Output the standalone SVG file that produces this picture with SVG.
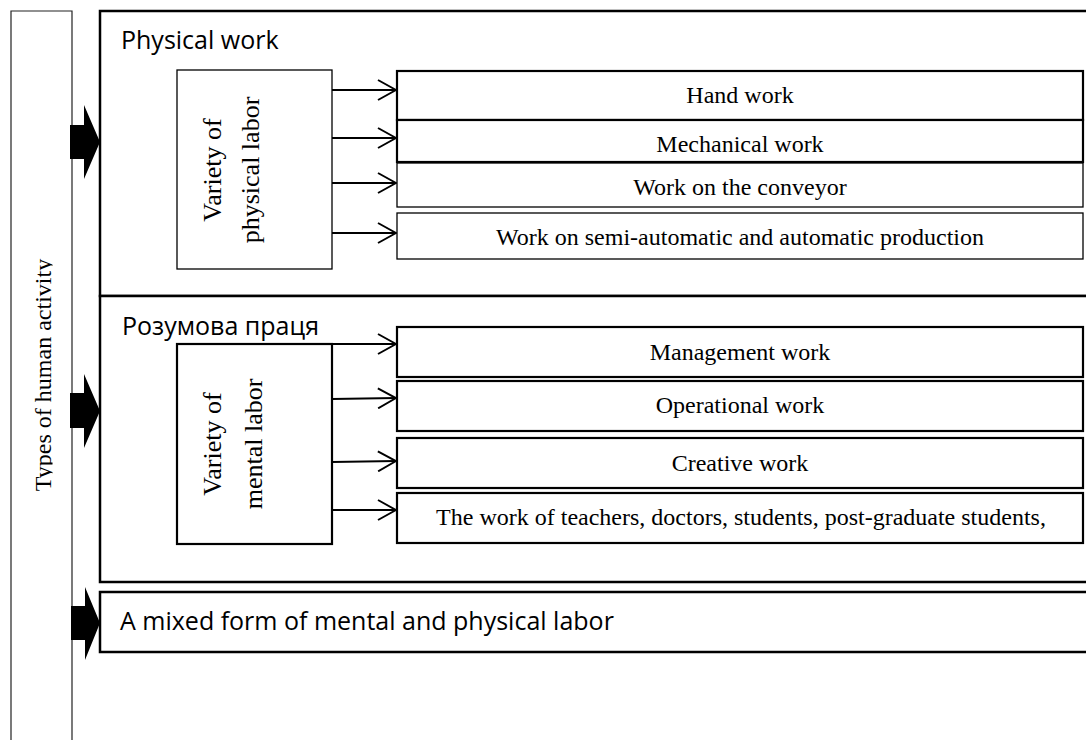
<svg xmlns="http://www.w3.org/2000/svg" width="1086" height="740" viewBox="0 0 1086 740">
<style>
.sans{font-family:"Open Sans","Liberation Sans",sans-serif;font-size:25px;fill:#000}
.serif{font-family:"Liberation Serif","Times New Roman",serif;font-size:24px;fill:#000}
.vt{font-family:"Liberation Serif","Times New Roman",serif;font-size:26px;fill:#000;text-anchor:middle}
.big{fill:#fff;stroke:#000;stroke-width:2.5}
.thick{fill:#fff;stroke:#000;stroke-width:2.2}
.thin{fill:#fff;stroke:#000;stroke-width:1.3}
.conn{stroke:#000;stroke-width:2;fill:none}
.blk{fill:#000}
</style>
<defs>
<marker id="open" viewBox="0 0 20 22" refX="19" refY="11" markerWidth="20" markerHeight="22" markerUnits="userSpaceOnUse" orient="auto">
<path d="M1,1 L19,11 L1,21" fill="none" stroke="#000" stroke-width="2"/>
</marker>
<clipPath id="clipL" clipPathUnits="userSpaceOnUse"><rect x="12" y="12" width="40.5" height="728"/></clipPath>
</defs>
<rect width="1086" height="740" fill="#fff"/>

<g id="types">
<path d="M11,740 V11 H72 V740" fill="#fff" stroke="#222" stroke-width="1.2"/>
<g clip-path="url(#clipL)">
<text class="serif" font-size="23.5" text-anchor="middle" transform="translate(51,375) rotate(-90)">Types of human activity</text>
</g>
</g>

<g id="physical">
<rect class="big" x="100" y="11" width="1010" height="285"/>
<text class="sans" x="121" y="49">Physical work</text>
</g>

<g id="mental">
<rect class="big" x="100" y="296" width="1010" height="286"/>
<text class="sans" x="122" y="335">Розумова праця</text>
</g>

<g id="mixed">
<rect class="big" x="100" y="592" width="1010" height="60"/>
<text class="sans" x="120" y="630">A mixed form of mental and physical labor</text>
</g>

<g id="var-physical">
<rect class="thin" x="177" y="70" width="155" height="199"/>
<text class="vt" transform="translate(221,170) rotate(-90)">Variety of</text>
<text class="vt" transform="translate(259,170) rotate(-90)">physical labor</text>
</g>

<g id="var-mental">
<rect class="thick" x="177" y="344" width="155" height="200"/>
<text class="vt" transform="translate(221,444) rotate(-90)">Variety of</text>
<text class="vt" transform="translate(262,444) rotate(-90)">mental labor</text>
</g>

<g id="hand">
<rect class="thick" x="397" y="71" width="686" height="49"/>
<text class="serif" x="740" y="103" text-anchor="middle">Hand work</text>
</g>
<g id="mechanical">
<rect class="thick" x="397" y="120" width="686" height="42"/>
<text class="serif" x="740" y="152" text-anchor="middle">Mechanical work</text>
</g>
<g id="conveyor">
<rect class="thin" x="397" y="163" width="686" height="44"/>
<text class="serif" x="740" y="195" text-anchor="middle">Work on the conveyor</text>
</g>
<g id="semiauto">
<rect class="thin" x="397" y="213" width="686" height="46"/>
<text class="serif" x="740" y="245" text-anchor="middle">Work on semi-automatic and automatic production</text>
</g>

<g id="management">
<rect class="thick" x="397" y="327" width="686" height="50"/>
<text class="serif" x="740" y="360" text-anchor="middle">Management work</text>
</g>
<g id="operational">
<rect class="thick" x="397" y="381" width="686" height="50"/>
<text class="serif" x="740" y="413" text-anchor="middle">Operational work</text>
</g>
<g id="creative">
<rect class="thick" x="397" y="438" width="686" height="50"/>
<text class="serif" x="740" y="471" text-anchor="middle">Creative work</text>
</g>
<g id="teachers">
<rect class="thick" x="397" y="493" width="686" height="50"/>
<text class="serif" x="741" y="525" text-anchor="middle">The work of teachers, doctors, students, post-graduate students,</text>
</g>

<g id="connectors">
<polygon class="blk" points="70,125 84,125 84,105 100,142 84,179 84,159 70,159"/>
<polygon class="blk" points="70,393 84,393 84,374 100,411 84,448 84,428 70,428"/>
<polygon class="blk" points="71,606 85,606 85,587 100,623 85,660 85,640 71,640"/>
<line class="conn" x1="332" y1="90" x2="396" y2="90" marker-end="url(#open)"/>
<line class="conn" x1="332" y1="138" x2="396" y2="138" marker-end="url(#open)"/>
<line class="conn" x1="332" y1="183" x2="396" y2="183" marker-end="url(#open)"/>
<line class="conn" x1="332" y1="233" x2="396" y2="233" marker-end="url(#open)"/>
<line class="conn" x1="332" y1="344" x2="396" y2="344" marker-end="url(#open)"/>
<line class="conn" x1="332" y1="399" x2="396" y2="398" marker-end="url(#open)"/>
<line class="conn" x1="332" y1="462" x2="396" y2="461" marker-end="url(#open)"/>
<line class="conn" x1="332" y1="510" x2="396" y2="510" marker-end="url(#open)"/>
</g>
</svg>
